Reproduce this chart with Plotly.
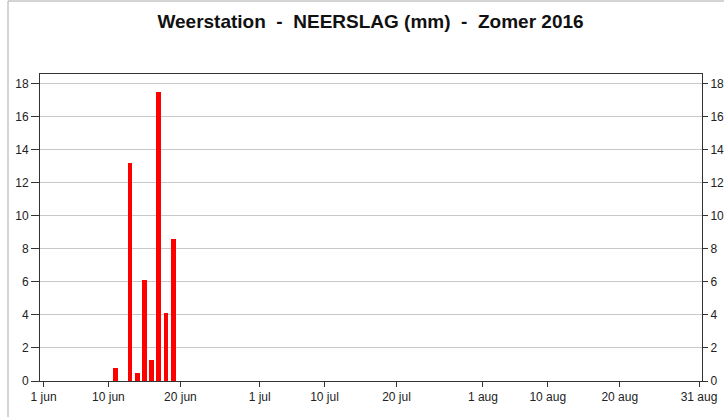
import plotly.graph_objects as go

dates = ["2016-06-11", "2016-06-13", "2016-06-14", "2016-06-15",
         "2016-06-16", "2016-06-17", "2016-06-18", "2016-06-19"]
rain_mm = [0.8, 13.2, 0.5, 6.1, 1.3, 17.5, 4.1, 8.6]

tick_dates = ["2016-06-01", "2016-06-10", "2016-06-20", "2016-07-01", "2016-07-10",
              "2016-07-20", "2016-08-01", "2016-08-10", "2016-08-20", "2016-08-31"]
tick_labels = ["1 jun", "10 jun", "20 jun", "1 jul", "10 jul",
               "20 jul", "1 aug", "10 aug", "20 aug", "31 aug"]
y_ticks = [0, 2, 4, 6, 8, 10, 12, 14, 16, 18]

title = "Weerstation  -  NEERSLAG (mm)  -  Zomer 2016"

FONT = "Liberation Sans, Arial, sans-serif"
yr = [0, 18.6]

fig = go.Figure()
fig.add_trace(go.Bar(x=dates, y=rain_mm, marker=dict(color="#ff0000", line=dict(width=0)),
                     width=0.68 * 86400000, hoverinfo="skip"))
fig.add_trace(go.Scatter(x=[dates[0]], y=[0], yaxis="y2", mode="markers",
                         marker=dict(opacity=0), showlegend=False, hoverinfo="skip"))

fig.update_layout(
    width=724, height=417,
    margin=dict(l=40, r=22, t=74, b=36),
    paper_bgcolor="white", plot_bgcolor="white",
    showlegend=False,
    title=dict(text="<b>" + title + "</b>", x=(370.5) / 724, xanchor="center",
               y=1 - 21.5 / 417, yanchor="middle",
               font=dict(family=FONT, size=19, color="#111111")),
    xaxis=dict(type="date", range=["2016-05-31 12:00", "2016-08-31 10:00"],
               tickvals=tick_dates, ticktext=tick_labels,
               ticks="outside", ticklen=5, tickcolor="#333333",
               showline=True, linecolor="#333333", linewidth=1, mirror=True,
               showgrid=False, zeroline=False, automargin=False,
               tickfont=dict(family=FONT, size=12, color="#222222")),
    yaxis=dict(range=yr, tickvals=y_ticks, ticks="outside", ticklen=8, tickcolor="#333333",
               showline=True, linecolor="#333333", linewidth=1,
               showgrid=True, gridcolor="#c8c8c8", gridwidth=1, zeroline=False,
               automargin=False,
               tickfont=dict(family=FONT, size=12, color="#222222")),
    yaxis2=dict(range=yr, tickvals=y_ticks, overlaying="y", side="right",
                ticks="outside", ticklen=5, tickcolor="#333333",
                showline=True, linecolor="#333333", linewidth=1,
                showgrid=False, zeroline=False, automargin=False,
                tickfont=dict(family=FONT, size=12, color="#222222")),
    bargap=0,
)

# outer frame lines (gray)
fig.add_shape(type="line", xref="paper", yref="paper",
              x0=(8 - 40) / 662, x1=(8 - 40) / 662, y0=(381 - 417) / 307, y1=(381 - 1) / 307,
              line=dict(color="#aaaaaa", width=1))
fig.add_shape(type="line", xref="paper", yref="paper",
              x0=(8 - 40) / 662, x1=(724 - 40) / 662, y0=(381 - 1) / 307, y1=(381 - 1) / 307,
              line=dict(color="#aaaaaa", width=1))

fig.write_html("out.html", config={"displayModeBar": False},
               post_script="document.body.style.margin='0';document.body.style.padding='0';")
